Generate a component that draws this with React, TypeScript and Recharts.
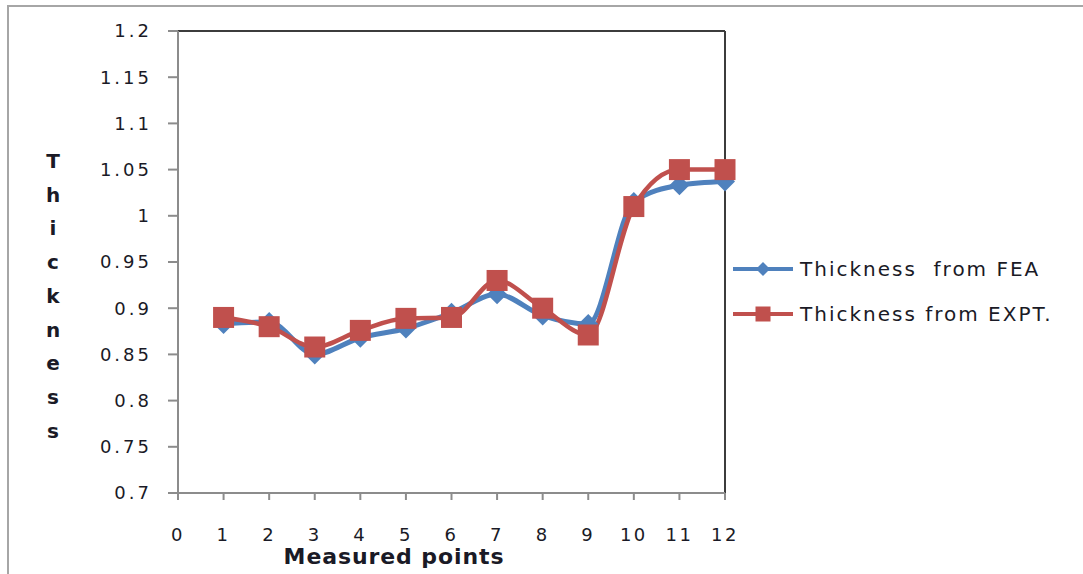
import { LineChart, Line, XAxis, YAxis, Legend, ReferenceLine } from "recharts";

const POINTS = [1, 2, 3, 4, 5, 6, 7, 8, 9, 10, 11, 12];
const FEA = [0.883, 0.885, 0.85, 0.868, 0.878, 0.895, 0.915, 0.892, 0.883, 1.015, 1.033, 1.037];
const EXPT = [0.89, 0.88, 0.858, 0.876, 0.889, 0.89, 0.93, 0.9, 0.871, 1.01, 1.05, 1.05];
const X_TICKS = [0, 1, 2, 3, 4, 5, 6, 7, 8, 9, 10, 11, 12];
const Y_TICKS = [0.7, 0.75, 0.8, 0.85, 0.9, 0.95, 1, 1.05, 1.1, 1.15, 1.2];

const BLUE = "#4f81bd";
const RED = "#c0504d";
const AXIS = "#8c8c8c";
const FRAME = "#3c3c3c";
const TEXT = "#1a1a26";
const FONT = "'DejaVu Sans', Verdana, sans-serif";

const rows = POINTS.map((p, i) => ({ point: p, fea: FEA[i], expt: EXPT[i] }));

function Diamond({ cx, cy, r = 10 }: { cx?: number; cy?: number; r?: number }) {
  if (cx == null || cy == null) return null;
  return <path d={`M${cx},${cy - r}L${cx + r},${cy}L${cx},${cy + r}L${cx - r},${cy}Z`} fill={BLUE} />;
}

function Square({ cx, cy, s = 21 }: { cx?: number; cy?: number; s?: number }) {
  if (cx == null || cy == null) return null;
  return <rect x={cx - s / 2} y={cy - s / 2} width={s} height={s} fill={RED} />;
}

function LegendBox() {
  const items = [
    { name: "Thickness  from FEA", color: BLUE, kind: "d" },
    { name: "Thickness from EXPT.", color: RED, kind: "s" },
  ];
  return (
    <svg width={350} height={75}>
      {items.map((it, i) => {
        const y = 14 + i * 45;
        return (
          <g key={it.name}>
            <line x1={0} x2={60} y1={y} y2={y} stroke={it.color} strokeWidth={4} />
            {it.kind === "d" ? (
              <Diamond cx={30} cy={y} r={7} />
            ) : (
              <Square cx={30} cy={y} s={15} />
            )}
            <text
              x={67}
              y={y + 7}
              fontFamily={FONT}
              fontSize={20}
              letterSpacing={2}
              fill={TEXT}
              style={{ whiteSpace: "pre" }}
            >
              {it.name}
            </text>
          </g>
        );
      })}
    </svg>
  );
}

function YLabel() {
  const letters = "Thickness".split("");
  return (
    <text fontFamily={FONT} fontSize={20} fontWeight="bold" fill={TEXT} textAnchor="middle">
      {letters.map((c, i) => (
        <tspan key={i} x={53} y={168 + i * 33.7}>
          {c}
        </tspan>
      ))}
    </text>
  );
}

function XLabel() {
  return (
    <text
      x={394}
      y={564}
      fontFamily={FONT}
      fontSize={22}
      fontWeight="bold"
      fill={TEXT}
      textAnchor="middle"
      letterSpacing={0.9}
    >
      Measured points
    </text>
  );
}

export default function App() {
  return (
    <div style={{ position: "absolute", left: 0, top: 0, width: 1083, height: 574, background: "#fff" }}>
      <div
        style={{
          position: "absolute",
          left: 7,
          top: 5,
          width: 1076,
          height: 569,
          borderTop: "2px solid #a6a6a6",
          borderLeft: "2px solid #a6a6a6",
        }}
      />
      <LineChart
        width={1083}
        height={574}
        data={rows}
        margin={{ top: 31, right: 358, bottom: 0, left: 0 }}
        style={{ position: "absolute", left: 0, top: 0 }}
      >
        <XAxis
          dataKey="point"
          type="number"
          domain={[0, 12]}
          ticks={X_TICKS}
          interval={0}
          stroke={AXIS}
          strokeWidth={2}
          tickSize={7}
          tickMargin={28}
          tick={{ fill: TEXT, fontSize: 18, fontFamily: FONT, letterSpacing: 2.5 }}
          height={81}
          label={<XLabel />}
        />
        <YAxis
          type="number"
          domain={[0.7, 1.2]}
          ticks={Y_TICKS}
          interval={0}
          width={178}
          stroke={AXIS}
          strokeWidth={2}
          tickSize={10}
          tickMargin={16}
          tick={{ fill: TEXT, fontSize: 18, fontFamily: FONT, letterSpacing: 3 }}
          label={<YLabel />}
        />
        <ReferenceLine y={1.2} stroke={FRAME} strokeWidth={2} />
        <ReferenceLine x={12} stroke={FRAME} strokeWidth={2} />
        <Legend
          content={<LegendBox />}
          layout="vertical"
          verticalAlign="middle"
          align="center"
          wrapperStyle={{ left: 733, top: 255, width: 350 }}
        />
        <Line
          dataKey="fea"
          name="Thickness from FEA"
          type="monotone"
          stroke={BLUE}
          strokeWidth={5}
          dot={(p: any) => <Diamond key={`d${p.index}`} cx={p.cx} cy={p.cy} />}
          activeDot={false}
          isAnimationActive={false}
        />
        <Line
          dataKey="expt"
          name="Thickness from EXPT."
          type="monotone"
          stroke={RED}
          strokeWidth={4.5}
          dot={(p: any) => <Square key={`s${p.index}`} cx={p.cx} cy={p.cy} />}
          activeDot={false}
          isAnimationActive={false}
        />
      </LineChart>
    </div>
  );
}
